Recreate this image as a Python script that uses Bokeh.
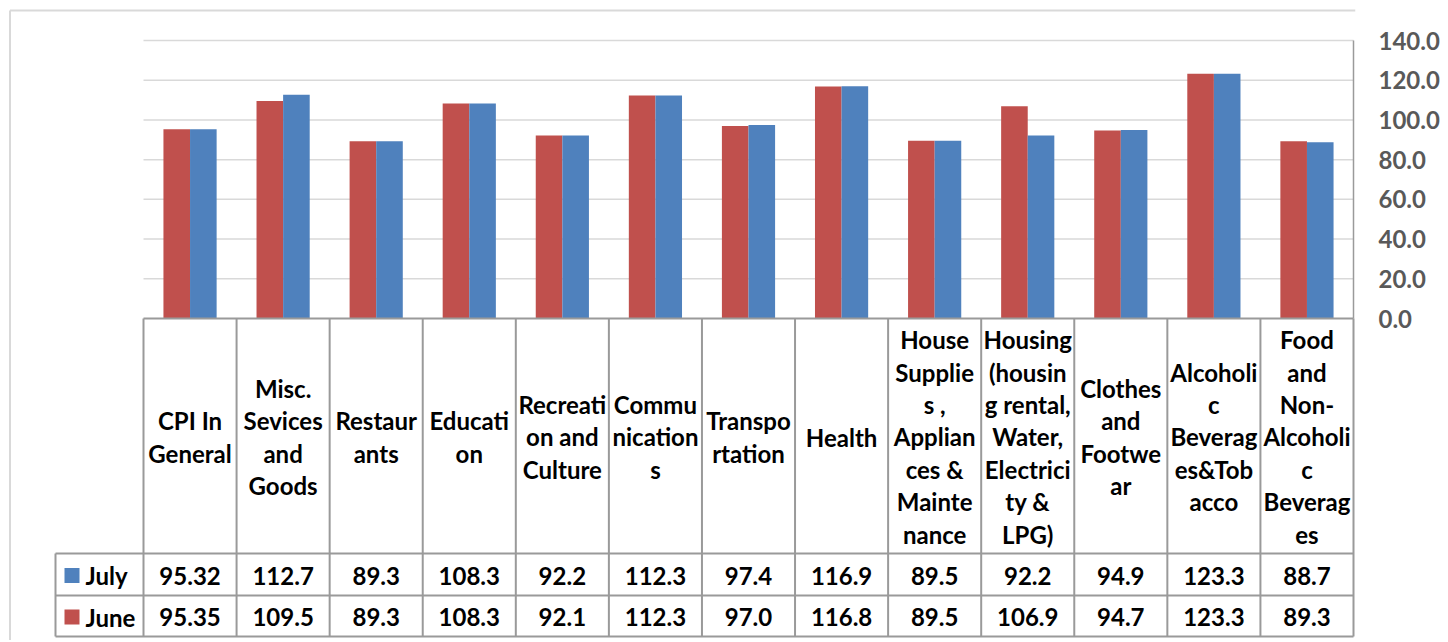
from bokeh.plotting import figure
from bokeh.models import Range1d, FixedTicker, NumeralTickFormatter
from bokeh.embed import file_html
from bokeh.resources import INLINE
from bokeh.core.properties import value

# ---------------- data ----------------
categories = [
    "CPI In\nGeneral",
    "Misc.\nSevices\nand\nGoods",
    "Restaur\nants",
    "Educati\non",
    "Recreati\non and\nCulture",
    "Commu\nnication\ns",
    "Transpo\nrtation",
    "Health",
    "House\nSupplie\ns ,\nApplian\nces &\nMainte\nnance",
    "Housing\n(housin\ng rental,\nWater,\nElectrici\nty &\nLPG)",
    "Clothes\nand\nFootwe\nar",
    "Alcoholi\nc\nBeverag\nes&Tob\nacco",
    "Food\nand\nNon-\nAlcoholi\nc\nBeverag\nes",
]
july = [95.32, 112.7, 89.3, 108.3, 92.2, 112.3, 97.4, 116.9, 89.5, 92.2, 94.9, 123.3, 88.7]
june = [95.35, 109.5, 89.3, 108.3, 92.1, 112.3, 97.0, 116.8, 89.5, 106.9, 94.7, 123.3, 89.3]
series = ["July", "June"]
y_ticks = [0, 20, 40, 60, 80, 100, 120, 140]

# ---------------- layout helpers (page pixels -> data units) ----------------
N = len(categories)
PL, PR = 143.0, 1353.0          # plot area left / right on page
Y0, Y140 = 318.0, 40.0          # page y of value 0 and value 140
PX = (PR - PL) / N
YPX = (Y0 - Y140) / 140.0

def xu(px):
    return (px - PL) / PX

def yu(py):
    return (Y0 - py) / YPX

W, H = 1444, 640
FRAME_LEFT, FRAME_RIGHT, FRAME_TOP, FRAME_BOTTOM = 0, 1355, 0, H

RED = "#C0504D"
BLUE = "#4F81BD"
GRID = "#D9D9D9"
TABLE = "#9A9A9A"
FONT = value("Lato")

p = figure(
    width=W, height=H, output_backend="svg", toolbar_location=None,
    x_range=Range1d(xu(FRAME_LEFT), xu(FRAME_RIGHT)),
    y_range=Range1d(yu(FRAME_BOTTOM), yu(FRAME_TOP)),
    x_axis_location=None, y_axis_location="right",
    min_border_left=0, min_border_top=0, min_border_bottom=0,
    min_border_right=W - FRAME_RIGHT,
)
p.outline_line_color = None
p.background_fill_color = "white"
p.border_fill_color = "white"
for g in p.grid:
    g.visible = False

# outer chart border (left and top)
p.segment(x0=[xu(9.5)], y0=[yu(10)], x1=[xu(FRAME_RIGHT)], y1=[yu(10)], line_color=GRID, line_width=2)
p.segment(x0=[xu(9.5)], y0=[yu(10)], x1=[xu(9.5)], y1=[yu(FRAME_BOTTOM)], line_color=GRID, line_width=2)

# horizontal gridlines
gt = [t for t in y_ticks if t > 0]
p.segment(x0=[0] * len(gt), y0=gt, x1=[N] * len(gt), y1=gt, line_color=GRID, line_width=1.5)
# right border of plot area
p.segment(x0=[N], y0=[0], x1=[N], y1=[max(y_ticks)], line_color=TABLE, line_width=1.5)

# bars
BW = 1 / 3.5
xs = [i + 0.5 for i in range(N)]
p.vbar(x=[x - BW / 2 for x in xs], top=june, width=BW, bottom=0, fill_color=RED, line_color=None)
p.vbar(x=[x + BW / 2 for x in xs], top=july, width=BW, bottom=0, fill_color=BLUE, line_color=None)

# ---------------- data table ----------------
R1, R2, R3 = 553, 595, 636
# vertical lines
p.segment(x0=list(range(N + 1)), y0=[0] * (N + 1), x1=list(range(N + 1)), y1=[yu(R3)] * (N + 1),
          line_color=TABLE, line_width=2)
p.segment(x0=[xu(55)], y0=[yu(R1)], x1=[xu(55)], y1=[yu(R3)], line_color=TABLE, line_width=2)
# horizontal lines
p.segment(x0=[0, xu(55), xu(55), xu(55)], y0=[0, yu(R1), yu(R2), yu(R3)],
          x1=[N] * 4, y1=[0, yu(R1), yu(R2), yu(R3)], line_color=TABLE, line_width=2)

# category labels
p.text(x=xs, y=[yu((Y0 + R1) / 2 + 1)] * N, text=categories, text_align="center", text_baseline="middle",
       text_font=FONT, text_font_style="bold", text_font_size="24px", text_color="black",
       text_line_height=1.12)

# value rows
row_y = {"July": yu((R1 + R2) / 2 + 1), "June": yu((R2 + R3) / 2 + 1)}
row_vals = {"July": july, "June": june}
row_col = {"July": BLUE, "June": RED}
for s in series:
    p.text(x=xs, y=[row_y[s]] * N, text=[str(v) for v in row_vals[s]], text_align="center",
           text_baseline="middle", text_font=FONT, text_font_style="bold", text_font_size="24px",
           text_color="black")
    p.scatter(x=[xu(71.5)], y=[row_y[s]], marker="square", size=15, fill_color=row_col[s], line_color=None)
    p.text(x=[xu(85)], y=[row_y[s]], text=[s], text_align="left", text_baseline="middle",
           text_font=FONT, text_font_style="bold", text_font_size="24px", text_color="black")

# right value axis
ax = p.yaxis[0]
ax.ticker = FixedTicker(ticks=y_ticks)
ax.formatter = NumeralTickFormatter(format="0.0")
ax.axis_line_color = None
ax.major_tick_line_color = None
ax.minor_tick_line_color = None
ax.major_tick_out = 0
ax.major_tick_in = 0
ax.major_label_standoff = 23
ax.major_label_text_align = "left"
ax.major_label_text_font = "Lato"
ax.major_label_text_font_style = "bold"
ax.major_label_text_font_size = "24px"
ax.major_label_text_color = "#595959"

open("out.html", "w").write(file_html(p, INLINE))
